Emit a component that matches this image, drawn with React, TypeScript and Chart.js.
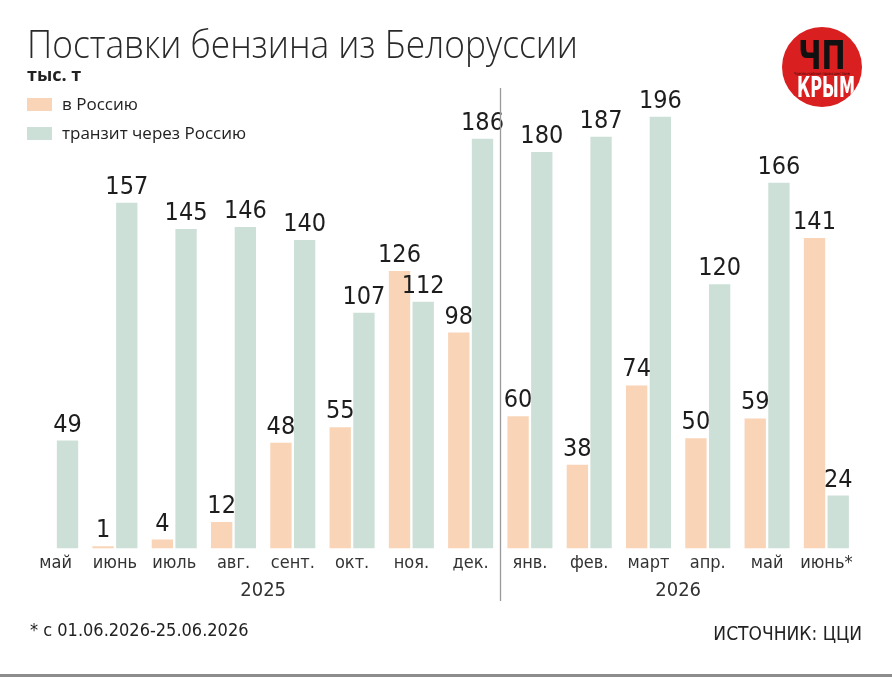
import React, { useEffect, useRef } from "react";
import { Chart, registerables } from "chart.js";

Chart.register(...registerables);

// ---- data ----
const months = ["май", "июнь", "июль", "авг.", "сент.", "окт.", "ноя.", "дек.", "янв.", "фев.", "март", "апр.", "май", "июнь*"];
const years = ["2025", "2026"];
const yearFirstIdx = [0, 8];
const yearLastIdx = [7, 13];
const toRussia: (number | null)[] = [null, 1, 4, 12, 48, 55, 126, 98, 60, 38, 74, 50, 59, 141];
const transit: number[] = [49, 157, 145, 146, 140, 107, 112, 186, 180, 187, 196, 120, 166, 24];
const seriesNames = ["в Россию", "транзит через Россию"];

const PEACH = "#F9D4B7";
const TEAL = "#CDE0D7";
const TEXT = "#1d1d1d";
const NARROW = '"Liberation Sans Narrow", "DejaVu Sans Condensed", sans-serif';
const LIGHT = '"Open Sans", "Noto Sans", sans-serif';

const valueLabels = {
  id: "valueLabels",
  afterDatasetsDraw(chart: any) {
    const { ctx } = chart;
    ctx.save();
    ctx.font = `25px ${NARROW}`;
    ctx.fillStyle = TEXT;
    ctx.textAlign = "center";
    ctx.textBaseline = "alphabetic";
    chart.data.datasets.forEach((ds: any, i: number) => {
      const meta = chart.getDatasetMeta(i);
      meta.data.forEach((el: any, j: number) => {
        const v = ds.data[j];
        if (v == null) return;
        ctx.fillText(String(v), el.x, el.y - 9);
      });
    });
    ctx.restore();
  },
};

const yearsAndDivider = {
  id: "yearsAndDivider",
  afterDraw(chart: any) {
    const { ctx } = chart;
    const xs = chart.scales.x;
    ctx.save();
    const sx = Math.round((xs.getPixelForValue(yearLastIdx[0]) + xs.getPixelForValue(yearFirstIdx[1])) / 2) + 0.5;
    ctx.strokeStyle = "#9a9a9a";
    ctx.lineWidth = 1.3;
    ctx.beginPath();
    ctx.moveTo(sx, 88);
    ctx.lineTo(sx, 601);
    ctx.stroke();
    ctx.font = `20px ${NARROW}`;
    ctx.fillStyle = "#333";
    ctx.textAlign = "center";
    ctx.textBaseline = "middle";
    years.forEach((y, k) => {
      const cx = (xs.getPixelForValue(yearFirstIdx[k]) + xs.getPixelForValue(yearLastIdx[k])) / 2;
      ctx.fillText(y, cx, 591);
    });
    ctx.restore();
  },
};

export default function App() {
  const canvasRef = useRef<HTMLCanvasElement | null>(null);
  const titleRef = useRef<HTMLDivElement | null>(null);

  useEffect(() => {
    document.body.style.margin = "0";
    const t = titleRef.current;
    if (t) {
      t.style.transform = "none";
      const w = t.scrollWidth;
      if (w > 0) t.style.transform = `scaleX(${551 / w})`;
    }
    const chart = new Chart(canvasRef.current as HTMLCanvasElement, {
      type: "bar",
      data: {
        labels: months,
        datasets: [
          {
            label: seriesNames[0],
            data: toRussia,
            backgroundColor: PEACH,
            categoryPercentage: 0.8,
            barPercentage: 0.9,
          },
          {
            label: seriesNames[1],
            data: transit,
            backgroundColor: TEAL,
            categoryPercentage: 0.8,
            barPercentage: 0.9,
          },
        ],
      },
      options: {
        responsive: false,
        animation: false,
        layout: { padding: { left: 26, right: 36, top: 108, bottom: 99 } },
        plugins: { legend: { display: false }, tooltip: { enabled: false }, title: { display: false } },
        scales: {
          x: {
            grid: { display: false, drawTicks: false },
            border: { display: false },
            ticks: {
              color: "#333",
              font: { family: NARROW, size: 18 },
              padding: 4,
              maxRotation: 0,
              autoSkip: false,
            },
          },
          y: { display: false, min: 0, max: 200 },
        },
      },
      plugins: [valueLabels, yearsAndDivider],
    });
    return () => chart.destroy();
  }, []);

  return (
    <div
      style={{
        position: "absolute",
        left: 0,
        top: 0,
        width: 892,
        height: 677,
        background: "#fff",
        overflow: "hidden",
        color: TEXT,
      }}
    >
      <canvas ref={canvasRef} width={892} height={677} style={{ position: "absolute", left: 0, top: 0, display: "block" }} />
      <div
        ref={titleRef}
        style={{
          position: "absolute",
          left: 27,
          top: 23,
          fontFamily: LIGHT,
          fontWeight: 300,
          fontSize: 39,
          lineHeight: "39px",
          whiteSpace: "nowrap",
          color: "#2a2a2a",
          transformOrigin: "left top",
        }}
      >
        Поставки бензина из Белоруссии
      </div>
      <div
        style={{
          position: "absolute",
          left: 27,
          top: 64,
          fontFamily: LIGHT,
          fontWeight: 700,
          fontSize: 18,
          lineHeight: "20px",
          color: "#222",
        }}
      >
        тыс. т
      </div>
      {seriesNames.map((name, i) => (
        <div key={name} style={{ position: "absolute", left: 27, top: 94 + i * 29, height: 20, display: "flex", alignItems: "center" }}>
          <div style={{ width: 25, height: 13, background: i === 0 ? PEACH : TEAL, marginRight: 10 }} />
          <div style={{ fontFamily: LIGHT, fontSize: 17, lineHeight: "20px", color: "#222", whiteSpace: "nowrap" }}>{name}</div>
        </div>
      ))}
      {/* logo */}
      <div
        style={{
          position: "absolute",
          left: 782,
          top: 27,
          width: 80,
          height: 80,
          borderRadius: "50%",
          background: "#D91F1F",
          overflow: "hidden",
          textAlign: "center",
        }}
      >
        <div
          style={{
            position: "absolute",
            left: 0,
            right: 0,
            top: 10,
            fontFamily: NARROW,
            fontWeight: 700,
            fontSize: 32,
            lineHeight: "32px",
            color: "#111",
            transform: "scaleY(1.2)",
            transformOrigin: "center top",
          }}
        >
          ЧП
        </div>
        <div style={{ position: "absolute", left: 0, right: 0, top: 44, fontFamily: NARROW, fontSize: 4, lineHeight: "5px", color: "#3a0a0a", whiteSpace: "nowrap" }}>
          Чрезвычайное происшествие
        </div>
        <div
          style={{
            position: "absolute",
            left: 8,
            right: 0,
            top: 47,
            fontFamily: NARROW,
            fontWeight: 700,
            fontSize: 18,
            lineHeight: "18px",
            color: "#fff",
            transform: "scaleY(1.55)",
            transformOrigin: "center top",
          }}
        >
          КРЫМ
        </div>
      </div>
      <div
        style={{
          position: "absolute",
          left: 30,
          top: 619,
          fontFamily: NARROW,
          fontSize: 18,
          lineHeight: "22px",
          color: "#222",
          whiteSpace: "nowrap",
        }}
      >
        * с 01.06.2026-25.06.2026
      </div>
      <div
        style={{
          position: "absolute",
          right: 30,
          top: 621,
          fontFamily: NARROW,
          fontSize: 19,
          lineHeight: "24px",
          color: "#222",
          whiteSpace: "nowrap",
        }}
      >
        ИСТОЧНИК: ЦЦИ
      </div>
      <div style={{ position: "absolute", left: 0, right: 0, top: 674, height: 3, background: "#8c8c8c" }} />
    </div>
  );
}
